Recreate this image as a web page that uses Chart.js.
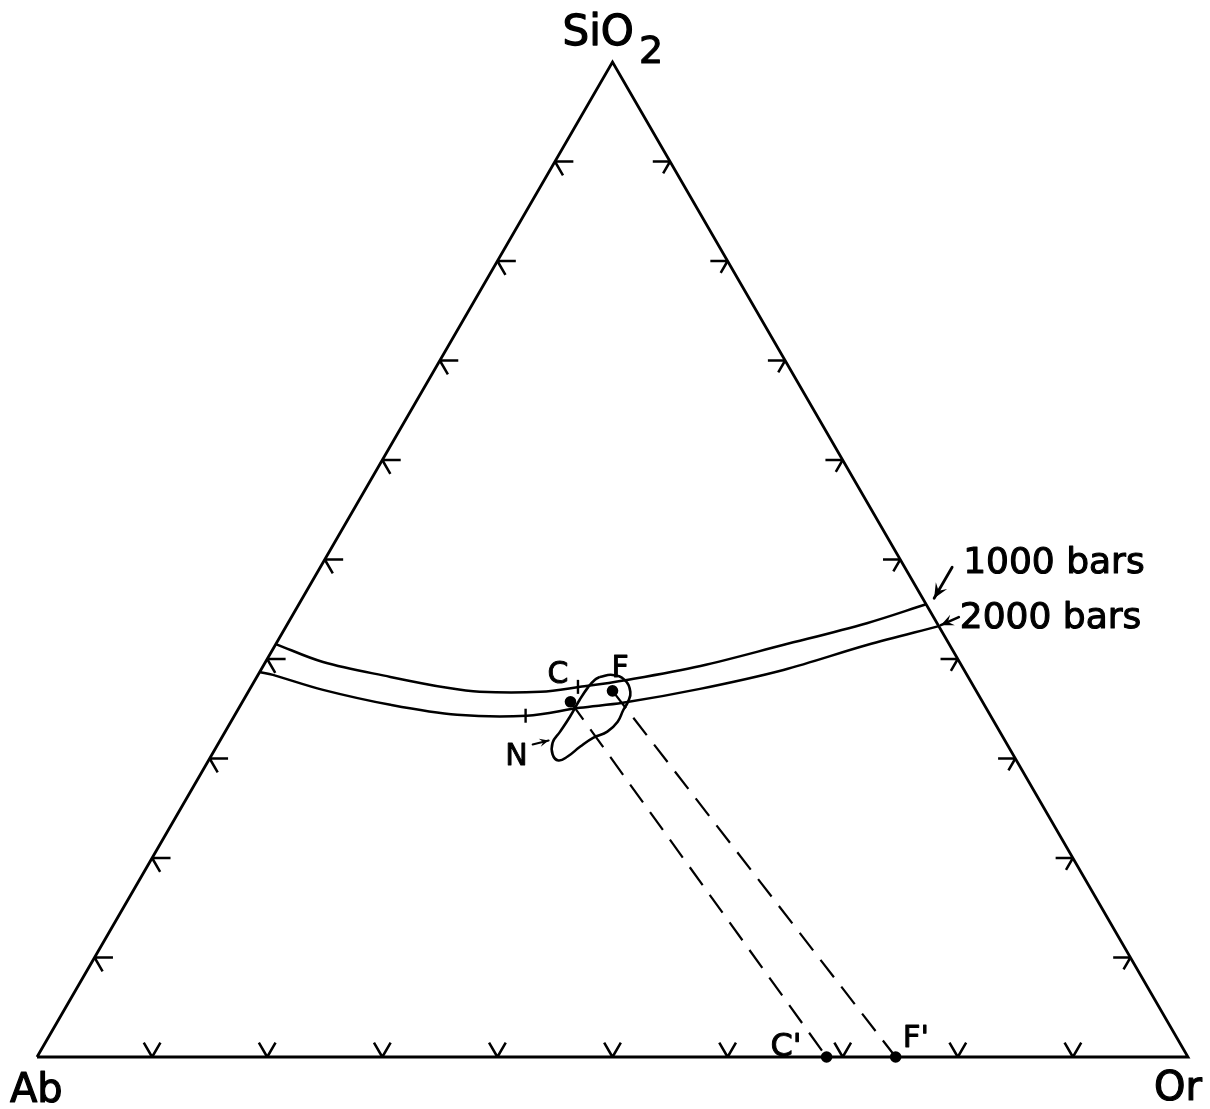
<!DOCTYPE html>
<html>
<head>
<meta charset="utf-8">
<style>
  html, body { margin: 0; padding: 0; background: #ffffff; }
  canvas { display: block; }
</style>
<script src="https://cdn.jsdelivr.net/npm/chart.js@4/dist/chart.umd.min.js"></script>
</head>
<body>
<canvas id="ternary" width="1210" height="1109"></canvas>
<script>
// Corner components of the Ab–Or–SiO2 diagram
const cornerNames = ['Ab', 'Or', 'SiO2'];
// Tick positions along each side (wt %)
const tickSteps = [10, 20, 30, 40, 50, 60, 70, 80, 90];

// Quartz–feldspar boundary at 1000 bars (wt % SiO2 and Or; Ab is the remainder)
const bars1000SiO2 = [41.5, 39.7, 38.2, 37.1, 36.7, 36.7, 37.2, 37.9, 39.3, 41.4, 43.6, 45.5];
const bars1000Or   = [0.0, 5.0, 11.6, 17.1, 20.1, 25.4, 28.6, 32.3, 38.0, 44.1, 50.3, 54.5];

// Quartz–feldspar boundary at 2000 bars
const bars2000SiO2 = [38.7, 38.4, 36.9, 35.4, 34.4, 34.3, 35.1, 35.6, 37.0, 38.9, 41.4, 43.3];
const bars2000Or   = [0.0, 1.3, 6.4, 13.0, 19.3, 25.4, 29.6, 33.1, 39.1, 45.4, 51.4, 56.7];

// Minima marked on the two boundaries (1000 bars, 2000 bars)
const minimaSiO2 = [37.2, 34.3];
const minimaOr   = [28.4, 25.3];

// Outline of field N
const fieldNSiO2 = [38.2, 38.4, 37.9, 36.7, 35.7, 34.9, 33.7, 32.7, 32.1, 31.2, 30.2, 29.8, 30.4, 31.6, 32.7, 34.2, 35.9, 37.2, 37.9, 38.2];
const fieldNOr   = [29.8, 30.8, 32.1, 33.2, 33.5, 33.5, 33.6, 33.2, 32.3, 31.6, 31.0, 30.4, 29.6, 29.0, 29.1, 29.2, 29.2, 29.3, 29.5, 29.8];

// Compositions C and F, and their projections C', F' onto the Ab–Or join
const pointNames = ['C', 'F'];
const pointSiO2  = [35.7, 36.8];
const pointOr    = [28.5, 31.6];
const projNames  = ["C'", "F'"];
const projOr     = [68.6, 74.6];

// Boundary labels
const boundaryNames = ['1000 bars', '2000 bars'];

// ---- ternary (SiO2, Or) -> cartesian (x, y) on linear scales ----
const H = Math.sqrt(3) / 2;
const toXY = (s, o) => ({ x: o + s / 2, y: s * H });
const GAP = { x: null, y: null };

// Tick stubs along the three sides (lengths in wt %)
function edgeTicks() {
  const pts = [];
  tickSteps.forEach(t => {
    // Ab–SiO2 side (Or = 0): constant SiO2 and constant Ab directions
    pts.push(toXY(t, 0), toXY(t, 1.6), GAP);
    pts.push(toXY(t, 0), toXY(t - 1.4, 1.4), GAP);
    // Or–SiO2 side (Ab = 0): constant SiO2 and constant Or directions
    pts.push(toXY(t, 100 - t), toXY(t, 100 - t - 1.5), GAP);
    pts.push(toXY(t, 100 - t), toXY(t - 1.2, 100 - t), GAP);
    // Ab–Or side (SiO2 = 0): constant Ab and constant Or directions
    pts.push(toXY(0, t), toXY(1.45, t - 1.45), GAP);
    pts.push(toXY(0, t), toXY(1.45, t), GAP);
  });
  return pts;
}

const zip = (sArr, oArr) => sArr.map((s, i) => toXY(s, oArr[i]));

const lineBase = {
  showLine: true, pointRadius: 0, borderColor: '#000', backgroundColor: '#000',
  fill: false, clip: false, spanGaps: false
};

const curve1000 = zip(bars1000SiO2, bars1000Or);
const curve2000 = zip(bars2000SiO2, bars2000Or);
const loopN = zip(fieldNSiO2, fieldNOr);
const dotsCF = zip(pointSiO2, pointOr);
const dotsProj = projOr.map(o => toXY(0, o));

const datasets = [
  Object.assign({}, lineBase, {
    label: 'frame', borderWidth: 2.8, tension: 0, borderJoinStyle: 'miter',
    data: [toXY(0, 0), toXY(0, 100), toXY(100, 0), toXY(0, 0)]
  }),
  Object.assign({}, lineBase, {
    label: 'ticks', borderWidth: 2.5, tension: 0, data: edgeTicks()
  }),
  Object.assign({}, lineBase, {
    label: boundaryNames[0], borderWidth: 2.5, tension: 0.35, data: curve1000
  }),
  Object.assign({}, lineBase, {
    label: boundaryNames[1], borderWidth: 2.5, tension: 0.35, data: curve2000
  }),
  Object.assign({}, lineBase, {
    label: 'field N', borderWidth: 2.6, tension: 0.45, data: loopN
  }),
  Object.assign({}, lineBase, {
    label: 'C-C\'', borderWidth: 2.2, borderDash: [22, 12], tension: 0,
    data: [dotsCF[0], dotsProj[0]]
  }),
  Object.assign({}, lineBase, {
    label: 'F-F\'', borderWidth: 2.2, borderDash: [22, 12], tension: 0,
    data: [dotsCF[1], dotsProj[1]]
  }),
  {
    label: 'minima', showLine: false, clip: false, data: zip(minimaSiO2, minimaOr),
    pointStyle: 'line', rotation: 90, pointRadius: 7, borderWidth: 2.4,
    borderColor: '#000', backgroundColor: '#000'
  },
  {
    label: 'compositions', showLine: false, clip: false, data: dotsCF.concat(dotsProj),
    pointStyle: 'circle', pointRadius: 5.8, borderWidth: 0,
    borderColor: '#000', backgroundColor: '#000'
  }
];

// Text labels and arrows, placed from data positions through the scales
const labelPlugin = {
  id: 'ternaryLabels',
  afterDatasetsDraw(chart) {
    const { ctx, scales: { x, y } } = chart;
    const px = p => ({ x: x.getPixelForValue(p.x), y: y.getPixelForValue(p.y) });
    const FONT = '"DejaVu Sans", "Liberation Sans", sans-serif';

    const text = (str, at, dx, dy, size, align) => {
      ctx.font = size + 'px ' + FONT;
      ctx.textAlign = align || 'left';
      ctx.textBaseline = 'alphabetic';
      ctx.lineWidth = size * 0.03;
      ctx.lineJoin = 'round';
      ctx.fillText(str, at.x + dx, at.y + dy);
      ctx.strokeText(str, at.x + dx, at.y + dy);
    };
    const arrow = (tip, tx, ty, hx, hy, head, lw) => {
      const a = { x: tip.x + hx, y: tip.y + hy };
      const b = { x: tip.x + tx, y: tip.y + ty };
      ctx.beginPath();
      ctx.moveTo(b.x, b.y);
      ctx.lineTo(a.x, a.y);
      ctx.lineWidth = lw;
      ctx.stroke();
      const ang = Math.atan2(a.y - b.y, a.x - b.x);
      ctx.beginPath();
      ctx.moveTo(a.x, a.y);
      ctx.lineTo(a.x - head * Math.cos(ang - 0.42), a.y - head * Math.sin(ang - 0.42));
      ctx.lineTo(a.x - head * 0.55 * Math.cos(ang), a.y - head * 0.55 * Math.sin(ang));
      ctx.lineTo(a.x - head * Math.cos(ang + 0.42), a.y - head * Math.sin(ang + 0.42));
      ctx.closePath();
      ctx.fill();
    };

    ctx.save();
    ctx.fillStyle = '#000';
    ctx.strokeStyle = '#000';
    ctx.lineCap = 'round';

    // corner labels
    const ab = px(toXY(0, 0)), or = px(toXY(0, 100)), si = px(toXY(100, 0));
    text(cornerNames[0], ab, -27, 45, 40, 'left');
    text(cornerNames[1], or, 14, 43, 40, 'right');
    ctx.font = '42px ' + FONT;
    const wSiO = ctx.measureText('SiO').width;
    text('SiO', si, -50, -17, 42, 'left');
    text('2', si, -50 + wSiO + 5, 1, 38, 'left');

    // boundary labels with arrows
    const end1000 = px(curve1000[curve1000.length - 1]);
    const end2000 = px(curve2000[curve2000.length - 1]);
    text(boundaryNames[0], end1000, 37, -31, 36, 'left');
    text(boundaryNames[1], end2000, 21, 2, 36, 'left');
    arrow(end1000, 26, -37, 8, -6, 16, 2.8);
    arrow(end2000, 20, -9, 2, -1, 14, 2.6);

    // points C and F, projections C' and F'
    const c = px(dotsCF[0]), f = px(dotsCF[1]);
    text(pointNames[0], c, -23, -19, 30, 'left');
    text(pointNames[1], f, -1, -14, 30, 'left');
    const cp = px(dotsProj[0]), fp = px(dotsProj[1]);
    text(projNames[0], cp, -25, -1, 32, 'right');
    text(projNames[1], fp, 7, -10, 31, 'left');

    // field N label with arrow to the outline
    const nLeft = px(loopN[13]);
    text('N', nLeft, -25, 22, 30, 'right');
    arrow(nLeft, -20, 2, -4, -2, 10, 2);

    ctx.restore();
  }
};

new Chart(document.getElementById('ternary'), {
  type: 'scatter',
  data: { datasets },
  options: {
    responsive: false,
    devicePixelRatio: 1,
    animation: false,
    events: [],
    layout: { padding: { left: 37, right: 22, top: 62, bottom: 52 } },
    plugins: { legend: { display: false }, tooltip: { enabled: false } },
    scales: {
      x: { type: 'linear', min: 0, max: 100, display: false },
      y: { type: 'linear', min: 0, max: 100 * H, display: false }
    }
  },
  plugins: [labelPlugin]
});
</script>
</body>
</html>
